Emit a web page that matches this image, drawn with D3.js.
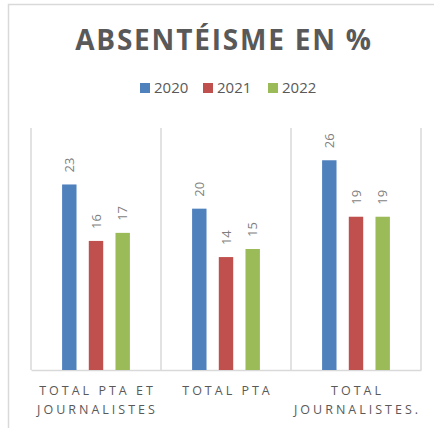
<!DOCTYPE html>
<html>
<head>
<meta charset="utf-8">
<script src="https://cdn.jsdelivr.net/npm/d3@7"></script>
<style>
	body { margin: 0; background: #fff; }
	svg { display: block; font-family: "Open Sans", sans-serif; }
</style>
</head>
<body>
<div id="vis"></div>
<script>
// data
var categories = ["TOTAL PTA ET JOURNALISTES", "TOTAL PTA", "TOTAL JOURNALISTES."]
var categoryLines = [["TOTAL PTA ET", "JOURNALISTES"], ["TOTAL PTA"], ["TOTAL", "JOURNALISTES."]]
var years = ["2020", "2021", "2022"]
var values2020 = [23, 20, 26]
var values2021 = [16, 14, 19]
var values2022 = [17, 15, 19]
var colors = ["#4f81bd", "#c0504d", "#9bbb59"]

var series = [values2020, values2021, values2022]

var width = 434
var height = 428

var svg = d3.select('#vis').append('svg')
	.attr('width', width)
	.attr('height', height)

// chart frame
svg.append('rect')
	.attr('x', 8.5)
	.attr('y', 4.5)
	.attr('width', 440)
	.attr('height', 440)
	.attr('fill', 'none')
	.attr('stroke', '#d9d9d9')
	.attr('stroke-width', 1.5)

svg.append('text')
	.attr('x', 224)
	.attr('y', 50)
	.attr('text-anchor', 'middle')
	.style('font-size', '28px')
	.style('font-weight', 'bold')
	.style('letter-spacing', '1.8px')
	.style('fill', '#595959')
	.text('ABSENTÉISME EN %')

// legend
var legendX = [140, 203, 268]
var legend = svg.selectAll('.legendItem')
	.data(years)
	.enter().append('g')
	.attr('class', 'legendItem')
	.attr('transform', function(d, i) { return 'translate(' + legendX[i] + ',88)' })

legend.append('rect')
	.attr('x', 0)
	.attr('y', -5)
	.attr('width', 10)
	.attr('height', 10)
	.attr('fill', function(d, i) { return colors[i] })

legend.append('text')
	.attr('x', 14)
	.attr('dy', 5)
	.style('font-size', '15px')
	.style('fill', '#595959')
	.text(function(d) { return d })

// scales
var x = d3.scaleBand()
	.domain(categories)
	.range([31, 421])

var xInner = d3.scaleBand()
	.domain(years)
	.range([0, x.bandwidth()])
	.paddingInner(0.46)
	.paddingOuter(1.165)

var y = d3.scaleLinear()
	.domain([0, 30])
	.range([370, 128])

// vertical separators
svg.append('g')
	.selectAll('line')
	.data(d3.range(categories.length + 1))
	.enter().append('line')
	.attr('x1', function(i) { return 31 + i * x.step() })
	.attr('x2', function(i) { return 31 + i * x.step() })
	.attr('y1', y(30))
	.attr('y2', y(0))
	.attr('stroke', '#d9d9d9')
	.attr('stroke-width', 1.5)

var xAxis = d3.axisBottom(x).tickSize(0).tickFormat('')
var axisG = svg.append('g')
	.attr('transform', 'translate(0,' + y(0) + ')')
	.call(xAxis)
axisG.select('.domain').attr('stroke', '#d9d9d9').attr('stroke-width', 1.5)

// bars
var groups = svg.selectAll('.cat')
	.data(categories)
	.enter().append('g')
	.attr('class', 'cat')
	.attr('transform', function(d) { return 'translate(' + x(d) + ',0)' })

groups.each(function(cat, ci) {
	var g = d3.select(this)
	years.forEach(function(yr, si) {
		var v = series[si][ci]
		g.append('rect')
			.attr('x', xInner(yr))
			.attr('y', y(v))
			.attr('width', xInner.bandwidth())
			.attr('height', y(0) - y(v))
			.attr('fill', colors[si])

		var cx = xInner(yr) + xInner.bandwidth() / 2
		g.append('text')
			.attr('transform', 'translate(' + (cx + 4.5) + ',' + (y(v) - 12) + ') rotate(-90)')
			.style('font-size', '13px')
			.style('fill', '#7f7f7f')
			.text(v)
	})

	var lbl = g.append('text')
		.attr('text-anchor', 'middle')
		.style('font-size', '12.5px')
		.style('letter-spacing', '3px')
		.style('fill', '#595959')
	categoryLines[ci].forEach(function(line, li) {
		lbl.append('tspan')
			.attr('x', x.bandwidth() / 2 + 1.5)
			.attr('y', 395 + li * 19)
			.text(line)
	})
})
</script>
</body>
</html>
